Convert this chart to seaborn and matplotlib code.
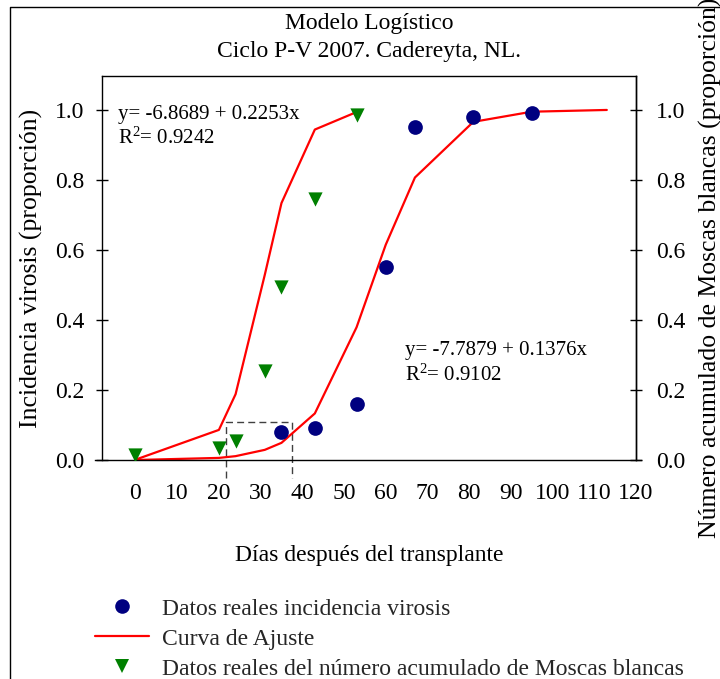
import matplotlib
matplotlib.use("Agg")
import matplotlib.pyplot as plt
from matplotlib.lines import Line2D
import seaborn as sns
import pandas as pd

# ---- data ----
inc_days = [35, 43, 53, 60, 67, 81, 95]
inc_vals = [0.08, 0.09, 0.16, 0.55, 0.95, 0.98, 0.99]

mb_days = [0, 20, 24, 31, 35, 43, 53]
mb_vals = [0.015, 0.035, 0.055, 0.255, 0.495, 0.745, 0.985]

fit_mb_days = [0, 20, 24, 31, 35, 43, 53]
fit_mb_vals = [0.001, 0.086, 0.188, 0.529, 0.734, 0.944, 0.994]

fit_inc_days = [0, 20, 24, 31, 35, 43, 53, 60, 67, 81, 95, 113]
fit_inc_vals = [0.000, 0.006, 0.011, 0.029, 0.049, 0.133, 0.379, 0.615, 0.807, 0.966, 0.995, 1.000]

box_x = [21.6, 21.6, 37.5, 37.5]
box_y = [-0.05, 0.109, 0.109, -0.05]

x_ticks = list(range(0, 121, 10))
y_ticks = [0.0, 0.2, 0.4, 0.6, 0.8, 1.0]
y_ticklabels = ["0.0", "0.2", "0.4", "0.6", "0.8", "1.0"]

title1 = "Modelo Logístico"
title2 = "Ciclo P-V 2007. Cadereyta, NL."
xlabel = "Días después del transplante"
ylabel_left = "Incidencia virosis (proporción)"
ylabel_right = "Número acumulado de Moscas blancas (proporción)"
eq1 = ["y= -6.8689 + 0.2253x", "R$^2$= 0.9242"]
eq2 = ["y= -7.7879 + 0.1376x", "R$^2$= 0.9102"]
legend_labels = ["Datos reales incidencia virosis", "Curva de Ajuste",
                 "Datos reales del número acumulado de Moscas blancas"]

NAVY = "#000080"
GREEN = "#008000"
RED = "#FF0000"

sns.set_theme(style="white")
plt.rcParams["font.family"] = ["Liberation Serif", "DejaVu Serif"]
plt.rcParams["mathtext.fontset"] = "custom"
plt.rcParams["mathtext.rm"] = "Liberation Serif"
plt.rcParams["mathtext.it"] = "Liberation Serif:italic"
plt.rcParams["axes.edgecolor"] = "black"
plt.rcParams["axes.linewidth"] = 1.0

FS = 17
FS_YLAB = 18.5
FS_EQ = 15

W, H = 720, 679
fig = plt.figure(figsize=(W / 100, H / 100), dpi=100)
fig.patch.set_facecolor("white")

ax_l, ax_r, ax_t, ax_b = 101.7, 636.0, 76.0, 460.0
ax = fig.add_axes([ax_l / W, 1 - ax_b / H, (ax_r - ax_l) / W, (ax_b - ax_t) / H])
ax.set_facecolor("white")

df_inc = pd.DataFrame({"d": inc_days, "v": inc_vals})
df_mb = pd.DataFrame({"d": mb_days, "v": mb_vals})
df_f1 = pd.DataFrame({"d": fit_mb_days, "v": fit_mb_vals})
df_f2 = pd.DataFrame({"d": fit_inc_days, "v": fit_inc_vals})

sns.lineplot(data=df_f1, x="d", y="v", ax=ax, color=RED, lw=1.6, estimator=None, sort=False, zorder=2)
sns.lineplot(data=df_f2, x="d", y="v", ax=ax, color=RED, lw=1.6, estimator=None, sort=False, zorder=2)
sns.scatterplot(data=df_inc, x="d", y="v", ax=ax, color=NAVY, marker="o", s=112, linewidth=0, zorder=3)
sns.scatterplot(data=df_mb, x="d", y="v", ax=ax, color=GREEN, marker="v", s=105, linewidth=0, zorder=3)

ax.plot(box_x, box_y, color="#404040", lw=1.0, ls=(0, (5, 3)), clip_on=False, zorder=1)

ax.set_xlim(-8.1, 120)
ax.set_ylim(0, 1.097)
ax.set_xticks(x_ticks)
ax.set_yticks(y_ticks)
ax.set_yticklabels(y_ticklabels)
ax.tick_params(axis="x", direction="inout", length=9, width=1, labelsize=FS, pad=12, colors="black")
ax.tick_params(axis="y", direction="inout", length=9, width=1, labelsize=FS, pad=8, colors="black", left=True)
for s in ["left", "right", "top", "bottom"]:
    ax.spines[s].set_visible(True)
    ax.spines[s].set_color("black")
ax.spines["bottom"].set_bounds(-9.7, 121.1)

ax.set_xlabel(xlabel, fontsize=FS, color="black")
ax.xaxis.set_label_coords(0.5, (ax_b - 556) / (ax_b - ax_t))
ax.xaxis.label.set_va("center")
ax.set_ylabel(ylabel_left, fontsize=FS_YLAB, color="black")
ax.yaxis.set_label_coords((31 - ax_l) / (ax_r - ax_l), 0.5)
ax.yaxis.label.set_va("center")

ax2 = ax.twinx()
ax2.set_ylim(0, 1.097)
ax2.set_yticks(y_ticks)
ax2.set_yticklabels(y_ticklabels)
ax2.tick_params(axis="y", direction="inout", length=9, width=1, labelsize=FS, pad=10, colors="black", right=True)
for s in ["left", "top", "bottom"]:
    ax2.spines[s].set_visible(False)
ax2.spines["right"].set_color("black")
ax2.set_ylabel(ylabel_right, fontsize=FS_YLAB, color="black")
ax2.yaxis.set_label_coords((710 - ax_l) / (ax_r - ax_l), 0.5)
ax2.yaxis.label.set_va("center")
ax2.grid(False)
ax.grid(False)

# equations
ax.text(-4.2, 0.986, eq1[0], fontsize=FS_EQ, ha="left", va="center", color="black")
ax.text(-4.2, 0.920, eq1[1], fontsize=FS_EQ, ha="left", va="center", color="black")
ax.text(64.6, 0.314, eq2[0], fontsize=FS_EQ, ha="left", va="center", color="black")
ax.text(64.6, 0.243, eq2[1], fontsize=FS_EQ, ha="left", va="center", color="black")

# title
cx = (ax_l + ax_r) / 2 / W
fig.text(cx, 1 - 23 / H, title1, fontsize=FS, ha="center", va="center", color="black")
fig.text(cx, 1 - 51 / H, title2, fontsize=FS, ha="center", va="center", color="black")

# figure border (top and left, cropped on the other sides)
fig.add_artist(Line2D([10 / W, 10 / W, 1.0], [0.0, 1 - 7 / H, 1 - 7 / H],
                      transform=fig.transFigure, color="black", lw=1.0))

# legend
handles = [
    Line2D([], [], color=NAVY, marker="o", ls="none", markersize=10.5, markeredgewidth=0),
    Line2D([], [], color=RED, lw=1.6),
    Line2D([], [], color=GREEN, marker="v", ls="none", markersize=10, markeredgewidth=0),
]
fig.legend(handles, legend_labels, loc="upper left", bbox_to_anchor=(95 / W, 1 - 598 / H),
           frameon=False, fontsize=FS, handlelength=2.3, handletextpad=0.55,
           labelspacing=0.36, borderpad=0, borderaxespad=0)

fig.savefig("out.png", dpi=100, facecolor="white")
